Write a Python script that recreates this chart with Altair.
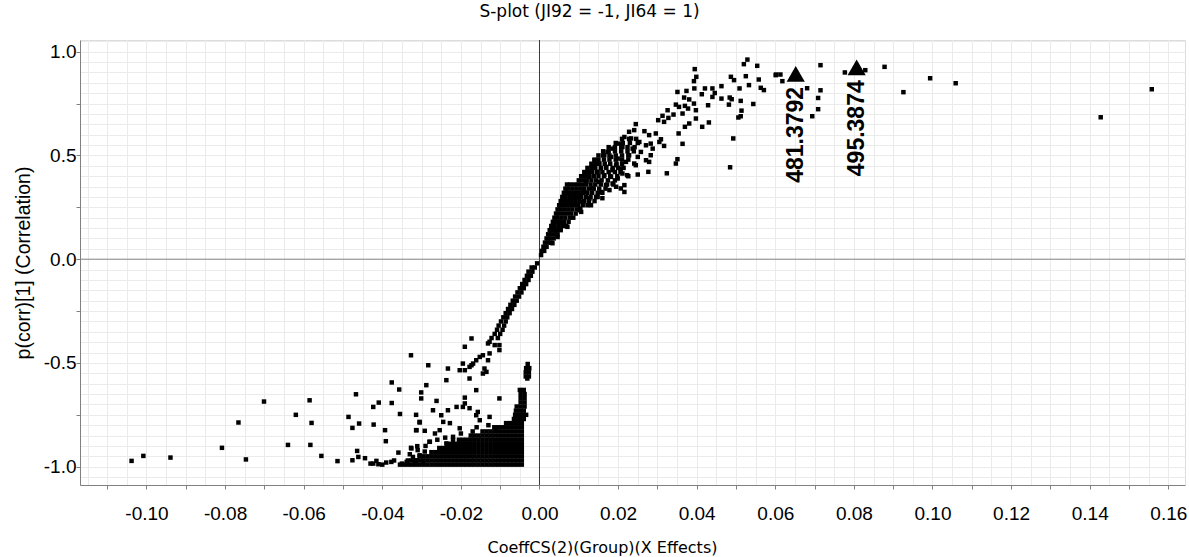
import altair as alt
import pandas as pd

title_text = "S-plot (JI92 = -1, JI64 = 1)"
x_title = "CoeffCS(2)(Group)(X Effects)"
y_title = "p(corr)[1] (Correlation)"

# sparse points, far upper right
upper_far = [(0.0715, 0.935), (0.0602, 0.890), (0.0613, 0.890), (0.0618, 0.858), (0.0681, 0.824),
             (0.0715, 0.814), (0.0709, 0.777), (0.0709, 0.723), (0.0694, 0.689), (0.0777, 0.900),
             (0.0829, 0.911), (0.0878, 0.927), (0.0926, 0.805), (0.0994, 0.872), (0.1059, 0.848),
             (0.1428, 0.684), (0.1558, 0.819)]

# upper cloud 0.02 .. 0.06
upper_mid = [(0.0529, 0.962), (0.0520, 0.940), (0.0554, 0.932), (0.0601, 0.887), (0.0395, 0.916),
             (0.0399, 0.879), (0.0393, 0.858), (0.0394, 0.823), (0.0487, 0.879), (0.0495, 0.863),
             (0.0525, 0.882), (0.0558, 0.866), (0.0533, 0.839), (0.0563, 0.826), (0.0571, 0.815),
             (0.0463, 0.834), (0.0509, 0.823), (0.0421, 0.823), (0.0440, 0.823), (0.0446, 0.801),
             (0.0413, 0.795), (0.0440, 0.782), (0.0463, 0.774), (0.0484, 0.779), (0.0489, 0.771),
             (0.0512, 0.763), (0.0482, 0.745), (0.0544, 0.748), (0.0514, 0.716), (0.0512, 0.689),
             (0.0506, 0.683), (0.0429, 0.742), (0.0493, 0.582), (0.0485, 0.443), (0.0351, 0.806),
             (0.0374, 0.811), (0.0368, 0.779), (0.0381, 0.770), (0.0393, 0.750), (0.0347, 0.745),
             (0.0355, 0.734), (0.0370, 0.739), (0.0378, 0.726), (0.0398, 0.718), (0.0364, 0.702),
             (0.0326, 0.718), (0.0313, 0.691), (0.0328, 0.681), (0.0341, 0.697), (0.0302, 0.670),
             (0.0317, 0.662), (0.0398, 0.678), (0.0381, 0.654), (0.0370, 0.638), (0.0414, 0.638),
             (0.0431, 0.659), (0.0354, 0.606), (0.0364, 0.556), (0.0351, 0.482), (0.0347, 0.461),
             (0.0324, 0.414), (0.0317, 0.546), (0.0245, 0.651), (0.0277, 0.421), (0.0250, 0.408),
             (0.0226, 0.400), (0.0216, 0.324), (0.0207, 0.341)]

# points of the rising band
band_pts = [(0.0228, 0.614), (0.0241, 0.622), (0.0267, 0.617), (0.0279, 0.598), (0.0296, 0.606),
            (0.0309, 0.578), (0.0305, 0.565), (0.0283, 0.557), (0.0271, 0.549), (0.0254, 0.565),
            (0.0233, 0.582), (0.0216, 0.589), (0.0203, 0.557), (0.0211, 0.541), (0.0237, 0.533),
            (0.0258, 0.517), (0.0288, 0.533), (0.0283, 0.501), (0.0271, 0.477), (0.0279, 0.469),
            (0.0250, 0.493), (0.0228, 0.501), (0.0241, 0.461), (0.0220, 0.469), (0.0186, 0.533),
            (0.0173, 0.517), (0.0165, 0.501), (0.0182, 0.493), (0.0199, 0.485), (0.0195, 0.453),
            (0.0207, 0.437), (0.0186, 0.429), (0.0169, 0.445), (0.0152, 0.461), (0.0140, 0.477),
            (0.0135, 0.445), (0.0148, 0.421), (0.0165, 0.405), (0.0182, 0.397), (0.0199, 0.389),
            (0.0186, 0.365), (0.0169, 0.357), (0.0152, 0.373), (0.0127, 0.397), (0.0119, 0.373),
            (0.0135, 0.341), (0.0157, 0.324), (0.0178, 0.333), (0.0195, 0.349), (0.0114, 0.324),
            (0.0127, 0.293), (0.0148, 0.300), (0.0110, 0.276), (0.0102, 0.244), (0.0131, 0.260),
            (0.0106, 0.228), (0.0211, 0.413), (0.0216, 0.357), (0.0160, 0.294), (0.0102, 0.236),
            (0.0071, 0.156), (0.0046, 0.107), (0.0033, 0.077), (0.0245, 0.453), (0.0223, 0.405)]

# dense wedge above the origin: (y, [x ...])
wedge_rows = [
    (0.02, [0.0004]),
    (0.04, [0.0006, 0.0012]),
    (0.06, [0.0010, 0.0018]),
    (0.08, [0.0014, 0.0022, 0.0030]),
    (0.10, [0.0018, 0.0026, 0.0036]),
    (0.12, [0.0022, 0.0030, 0.0040, 0.0046]),
    (0.14, [0.0026, 0.0034, 0.0044, 0.0054]),
    (0.16, [0.0030, 0.0038, 0.0048, 0.0058, 0.0068]),
    (0.18, [0.0034, 0.0042, 0.0052, 0.0062, 0.0074]),
    (0.20, [0.0038, 0.0046, 0.0056, 0.0066, 0.0078, 0.0086]),
    (0.22, [0.0042, 0.0050, 0.0060, 0.0070, 0.0080, 0.0092]),
    (0.24, [0.0046, 0.0054, 0.0064, 0.0074, 0.0084, 0.0096, 0.0104]),
    (0.26, [0.0050, 0.0058, 0.0068, 0.0078, 0.0088, 0.0098, 0.0110, 0.0122]),
    (0.28, [0.0054, 0.0062, 0.0072, 0.0082, 0.0092, 0.0102, 0.0114, 0.0126, 0.0140]),
    (0.30, [0.0058, 0.0066, 0.0076, 0.0086, 0.0096, 0.0106, 0.0118, 0.0130, 0.0144]),
    (0.32, [0.0062, 0.0070, 0.0080, 0.0090, 0.0100, 0.0110, 0.0122, 0.0134, 0.0148, 0.0160]),
    (0.34, [0.0066, 0.0074, 0.0084, 0.0094, 0.0104, 0.0114, 0.0126, 0.0138, 0.0152, 0.0168]),
    (0.36, [0.0070, 0.0078, 0.0088, 0.0098, 0.0108, 0.0118, 0.0130, 0.0142, 0.0156, 0.0172, 0.0188]),
    (0.38, [0.0100, 0.0110, 0.0120, 0.0132, 0.0144, 0.0158, 0.0174, 0.0192]),
    (0.40, [0.0106, 0.0116, 0.0126, 0.0138, 0.0150, 0.0164, 0.0180, 0.0198]),
    (0.42, [0.0114, 0.0124, 0.0134, 0.0146, 0.0160, 0.0176, 0.0192, 0.0206]),
    (0.44, [0.0122, 0.0132, 0.0142, 0.0156, 0.0170, 0.0186, 0.0200, 0.0214]),
    (0.46, [0.0132, 0.0142, 0.0152, 0.0166, 0.0180, 0.0196, 0.0210]),
    (0.48, [0.0140, 0.0150, 0.0164, 0.0178, 0.0194, 0.0210, 0.0226]),
    (0.50, [0.0150, 0.0162, 0.0178, 0.0194, 0.0210, 0.0226]),
    (0.52, [0.0162, 0.0176, 0.0192, 0.0208, 0.0224, 0.0240]),
    (0.54, [0.0176, 0.0192, 0.0208, 0.0224, 0.0242]),
    (0.56, [0.0194, 0.0212, 0.0230, 0.0250]),
    (0.58, [0.0210, 0.0228, 0.0246]),
]

# descending branch below the origin: (y, [x ...])
neg_rows = [
    (-0.02, [-0.0006]),
    (-0.04, [-0.0012, -0.0020]),
    (-0.06, [-0.0018, -0.0028]),
    (-0.08, [-0.0022, -0.0032]),
    (-0.10, [-0.0028, -0.0038]),
    (-0.12, [-0.0034, -0.0044]),
    (-0.14, [-0.0040, -0.0050]),
    (-0.16, [-0.0046, -0.0056]),
    (-0.18, [-0.0052, -0.0062]),
    (-0.20, [-0.0058, -0.0068]),
    (-0.22, [-0.0064, -0.0074]),
    (-0.24, [-0.0070, -0.0080]),
    (-0.26, [-0.0076, -0.0086]),
    (-0.28, [-0.0082, -0.0092]),
    (-0.30, [-0.0086, -0.0098]),
    (-0.32, [-0.0090, -0.0104]),
    (-0.34, [-0.0094, -0.0108]),
    (-0.36, [-0.0100, -0.0114]),
    (-0.38, [-0.0106, -0.0122]),
]

# scattered points in the lower middle
neg_mid = [(-0.0131, -0.406), (-0.0102, -0.414), (-0.0127, -0.454), (-0.0152, -0.471), (-0.0173, -0.511),
           (-0.0190, -0.535), (-0.0135, -0.543), (-0.0203, -0.535), (-0.0233, -0.527), (-0.0190, -0.422),
           (-0.0237, -0.583), (-0.0178, -0.575), (-0.0161, -0.631), (-0.0262, -0.683), (-0.0190, -0.667),
           (-0.0190, -0.695), (-0.0102, -0.671), (-0.0271, -0.728), (-0.0233, -0.728), (-0.0211, -0.712),
           (-0.0157, -0.736), (-0.0305, -0.784), (-0.0266, -0.840), (-0.0313, -0.824), (-0.0326, -0.912),
           (-0.0279, -0.880), (-0.0237, -0.888), (-0.0220, -0.856), (-0.0127, -0.398), (-0.0114, -0.414),
           (-0.0102, -0.438), (-0.0144, -0.463), (-0.0161, -0.487), (-0.0178, -0.519), (-0.0131, -0.487),
           (-0.0140, -0.527), (-0.0144, -0.551), (-0.0161, -0.752), (-0.0152, -0.776), (-0.0127, -0.760),
           (-0.0178, -0.718), (-0.0203, -0.815), (-0.0228, -0.790), (-0.0254, -0.824), (-0.0110, -0.816),
           (-0.0173, -0.382), (-0.0195, -0.503), (-0.0169, -0.503), (-0.0195, -0.712), (-0.0250, -0.752),
           (-0.0245, -0.784)]

# sparse points, lower left
lower_left = [(-0.1038, -0.972), (-0.1008, -0.948), (-0.0939, -0.956), (-0.0808, -0.909), (-0.0766, -0.787),
              (-0.0747, -0.965), (-0.0701, -0.686), (-0.0640, -0.895), (-0.0620, -0.750), (-0.0585, -0.680),
              (-0.0580, -0.789), (-0.0583, -0.895), (-0.0555, -0.948), (-0.0514, -0.973), (-0.0486, -0.760),
              (-0.0476, -0.813), (-0.0467, -0.651), (-0.0459, -0.792), (-0.0464, -0.924), (-0.0476, -0.969),
              (-0.0461, -0.953), (-0.0444, -0.959), (-0.0423, -0.712), (-0.0409, -0.691), (-0.0422, -0.797),
              (-0.0423, -0.985), (-0.0415, -0.972), (-0.0410, -0.988), (-0.0393, -0.824), (-0.0391, -0.877),
              (-0.0376, -0.594), (-0.0376, -0.693), (-0.0377, -0.977), (-0.0357, -0.628), (-0.0355, -0.746),
              (-0.0359, -0.932), (-0.0350, -0.985), (-0.0327, -0.463), (-0.0327, -0.909), (-0.0314, -0.750),
              (-0.0314, -0.824), (-0.0311, -0.901), (-0.0305, -0.787), (-0.0301, -0.642), (-0.0301, -0.671),
              (-0.0292, -0.827), (-0.0292, -0.927), (-0.0288, -0.607), (-0.0283, -0.511), (-0.0338, -0.977),
              (-0.0322, -0.953), (-0.0313, -0.969), (-0.0305, -0.945), (-0.0296, -0.977), (-0.0317, -0.985)]

# two narrow columns just left of zero
col_a = [(-0.0030, -0.505), (-0.0034, -0.525), (-0.0026, -0.525), (-0.0035, -0.545), (-0.0027, -0.545),
         (-0.0035, -0.565), (-0.0027, -0.565), (-0.0031, -0.575)]
col_b = [(-0.0050, -0.63), (-0.0040, -0.63), (-0.0048, -0.65), (-0.0038, -0.65), (-0.0048, -0.67),
         (-0.0038, -0.67), (-0.0048, -0.69), (-0.0038, -0.69), (-0.0058, -0.71), (-0.0048, -0.71),
         (-0.0038, -0.71), (-0.0060, -0.73), (-0.0050, -0.73), (-0.0040, -0.73), (-0.0062, -0.75),
         (-0.0052, -0.75), (-0.0042, -0.75), (-0.0034, -0.75), (-0.0060, -0.77), (-0.0050, -0.77),
         (-0.0040, -0.77)]

# dense block near (-0.02, -0.95): column positions and each row's left edge
blob_cols = [-0.0355, -0.0345, -0.0335, -0.0325, -0.0315, -0.0305, -0.0295, -0.0285, -0.0275, -0.0265,
             -0.0255, -0.0245, -0.0235, -0.0225, -0.0215, -0.0205, -0.0195, -0.0185, -0.0175, -0.0165,
             -0.0155, -0.0145, -0.0135, -0.0125, -0.0115, -0.0105, -0.0095, -0.0085, -0.0075, -0.0065,
             -0.0055, -0.0045]
blob_row_y = [-0.99, -0.97, -0.95, -0.93, -0.91, -0.89, -0.87, -0.85, -0.83, -0.81, -0.79, -0.77]
blob_row_left = [-0.0355, -0.0335, -0.0305, -0.0275, -0.0255, -0.0235, -0.0205, -0.0175, -0.0145,
                 -0.0115, -0.0085, -0.0065]
blob_edge = [(-0.033, -0.94), (-0.031, -0.92), (-0.029, -0.90), (-0.028, -0.88), (-0.026, -0.87),
             (-0.024, -0.86), (-0.022, -0.87), (-0.020, -0.84), (-0.017, -0.83), (-0.016, -0.81),
             (-0.013, -0.80), (-0.037, -0.97), (-0.039, -0.98), (-0.040, -0.99), (-0.043, -0.985)]

# highlighted variables
marker_x = [0.0652, 0.0807]
marker_y = [0.893, 0.925]
marker_labels = ["481.3792", "495.3874"]

# reference lines through the origin
zero_line = [0.0]

# ---------------------------------------------------------------------------
pts = upper_far + upper_mid + band_pts + neg_mid + lower_left + col_a + col_b + blob_edge
pts += [(x, y) for y, xs in wedge_rows for x in xs]
pts += [(x, y) for y, xs in neg_rows for x in xs]
pts += [(x, y) for y, left in zip(blob_row_y, blob_row_left) for x in blob_cols if x >= left - 1e-9]
df = pd.DataFrame(pts, columns=["x", "y"])
mk = pd.DataFrame({"x": marker_x, "y": marker_y, "label": marker_labels})
zdf = pd.DataFrame({"x": zero_line, "y": zero_line})

X_DOM = [-0.11692, 0.16425]
Y_DOM = [-1.0882, 1.0564]
x_vals = [round(-0.115 + 0.005 * i, 3) for i in range(56)]
y_vals = [round(-1.05 + 0.05 * i, 2) for i in range(43)]

x_axis = alt.Axis(
    values=x_vals, grid=True, gridColor="#ebebeb",
    tickColor="#808080", tickSize=4,
    tickOpacity={"condition": {"test": "abs(round(datum.value * 1000)) % 10 == 0", "value": 1}, "value": 0},
    domainColor="#808080",
    labelExpr="abs(round(datum.value * 1000)) % 20 == 0 ? (datum.value < -0.0001 ? '-' + format(-datum.value, '.2f') : format(abs(datum.value), '.2f')) : ''",
    labelFont="Liberation Sans", labelFontSize=19, labelColor="black", labelPadding=15,
    labelOverlap=False, labelFlush=False, labelBound=False,
    title=x_title, titleFont="DejaVu Sans", titleFontSize=16, titleFontWeight="normal", titleColor="black",
    titleX=522, titleY=67, titleAlign="center", titleBaseline="alphabetic",
)
y_axis = alt.Axis(
    values=y_vals, grid=True, gridColor="#ebebeb",
    tickColor="#808080", tickSize=4,
    tickOpacity={"condition": {"test": "abs(round(datum.value * 100)) % 25 == 0", "value": 1}, "value": 0},
    domainColor="#808080",
    labelExpr="abs(round(datum.value * 100)) % 50 == 0 ? (datum.value < -0.001 ? '-' + format(-datum.value, '.1f') : format(abs(datum.value), '.1f')) : ''",
    labelFont="Liberation Sans", labelFontSize=19, labelColor="black", labelPadding=0,
    labelOverlap=False, labelFlush=False, labelBound=False,
    title=y_title, titleFont="Liberation Sans", titleFontSize=19.5, titleFontWeight="normal", titleColor="black",
    titleX=-57, titleY=222.5, titleAlign="center", titleBaseline="middle", titleAngle=270,
)

xs = alt.Scale(domain=X_DOM, nice=False, zero=False)
ys = alt.Scale(domain=Y_DOM, nice=False, zero=False)
X = alt.X("x:Q", scale=xs, axis=x_axis)
Y = alt.Y("y:Q", scale=ys, axis=y_axis)

vline = alt.Chart(zdf).mark_rule(color="#3a3a3a", strokeWidth=1).encode(x=X)
hline = alt.Chart(zdf).mark_rule(color="#858585", strokeWidth=1).encode(y=Y)
scatter = alt.Chart(df).mark_square(size=20, color="black", filled=True, opacity=1, strokeWidth=0).encode(x=X, y=Y)
tri = alt.Chart(mk).mark_point(shape="triangle-up", size=330, filled=True, color="black", opacity=1).encode(x=X, y=Y)
lab = alt.Chart(mk).mark_text(angle=270, align="right", baseline="middle", dx=-13,
                              font="Liberation Sans", fontSize=23, fontWeight="bold", color="black").encode(
    x=X, y=Y, text="label:N",
)

chart = alt.layer(hline, vline, scatter, tri, lab).properties(
    width=1105, height=445,
    title=alt.Title(title_text, font="DejaVu Sans", fontSize=17, fontWeight="normal", color="black",
                    anchor="middle", dx=-43, offset=11),
    autosize=alt.AutoSizeParams(type="none"),
    padding={"left": 80, "top": 40, "right": 4, "bottom": 72},
).configure_view(strokeWidth=0).configure(background="white")

chart.save("out.html", embed_options={"renderer": "svg", "actions": False})
